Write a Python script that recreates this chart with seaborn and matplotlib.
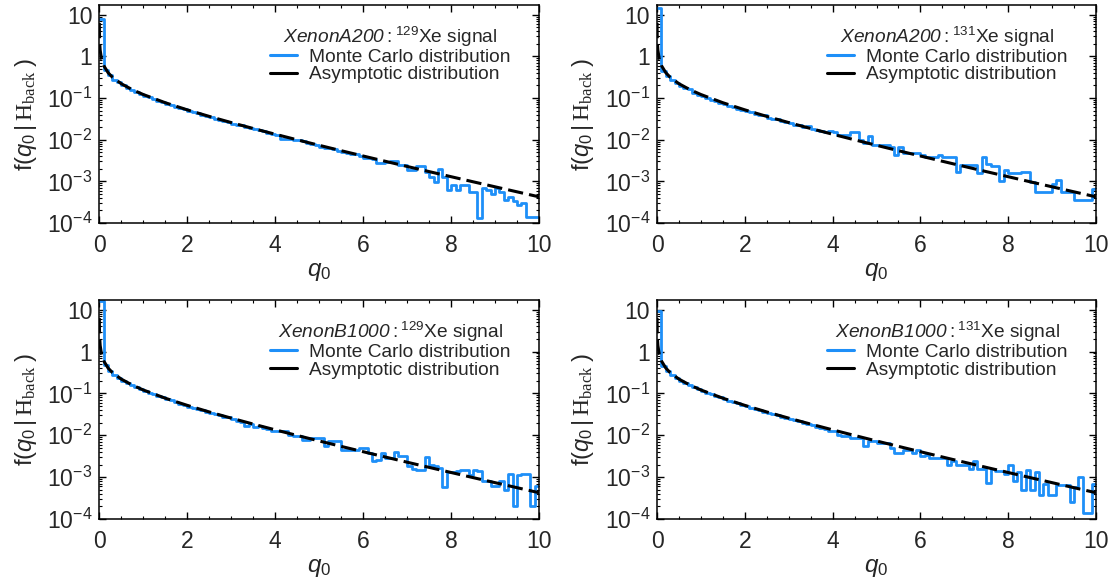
"""Monte Carlo vs asymptotic f(q0 | H_back) for the four xenon setups."""

import matplotlib.pyplot as plt
import matplotlib.ticker as mtick
from matplotlib.lines import Line2D
import numpy as np
import pandas as pd
import seaborn as sns

sns.set_theme(style="ticks")
plt.rcParams.update({
    "font.family": ["Liberation Sans", "DejaVu Sans"],
    "mathtext.fontset": "custom",
    "mathtext.rm": "Liberation Sans",
    "mathtext.it": "Liberation Sans:italic",
    "mathtext.bf": "Liberation Sans:italic",
    "mathtext.sf": "Liberation Serif",
    "xtick.direction": "in",
    "ytick.direction": "in",
    "xtick.top": True,
    "ytick.right": True,
    "axes.edgecolor": "black",
    "axes.linewidth": 1.1,
})

BLUE = "#1e8ff8"

# ── Data ──────────────────────────────────────────────────────────────────────

BIN_EDGES = np.linspace(0, 10, 101)

SETUPS = ["XenonA200", "XenonA200", "XenonB1000", "XenonB1000"]
ISOTOPES = ["129", "131", "129", "131"]

# Monte Carlo histograms (density per bin of width 0.1)
MC_A200_129 = [
    7.9, 0.46, 0.35, 0.27, 0.24, 0.20, 0.175, 0.155, 0.14, 0.125,
    0.112, 0.105, 0.094, 0.086, 0.080, 0.072, 0.068, 0.062, 0.058, 0.054,
    0.049, 0.046, 0.043, 0.039, 0.037, 0.035, 0.032, 0.030, 0.028, 0.027,
    0.024, 0.023, 0.022, 0.020, 0.019, 0.018, 0.017, 0.0158, 0.0145, 0.0135,
    0.0128, 0.0103, 0.0101, 0.0104, 0.0098, 0.0097, 0.0093, 0.0081, 0.0078, 0.0074,
    0.0066, 0.0062, 0.0063, 0.0060, 0.0053, 0.0051, 0.0047, 0.0045, 0.0046, 0.0040,
    0.0037, 0.0036, 0.0034, 0.0027, 0.0027, 0.0029, 0.0031, 0.0031, 0.0025, 0.0024,
    0.00186, 0.00186, 0.0023, 0.0023, 0.0017, 0.00129, 0.00098, 0.00195, 0.0013, 0.00062,
    0.00081, 0.00062, 0.00081, 0.00081, 0.00056, 0.00056, 0.00013, 0.00068, 0.00062, 0.00051,
    0.0007, 0.00056, 0.00036, 0.00043, 0.00033, 0.00027, 0.00031, 0.00014, 0.00014, 0.00014,
]
MC_A200_131 = [
    14.5, 0.45, 0.33, 0.27, 0.23, 0.19, 0.17, 0.16, 0.135, 0.12,
    0.11, 0.100, 0.090, 0.085, 0.076, 0.072, 0.065, 0.060, 0.055, 0.051,
    0.048, 0.046, 0.042, 0.040, 0.038, 0.034, 0.032, 0.031, 0.028, 0.026,
    0.025, 0.023, 0.022, 0.020, 0.021, 0.018, 0.017, 0.016, 0.015, 0.016,
    0.0155, 0.0129, 0.0129, 0.0129, 0.0155, 0.0155, 0.0097, 0.0082, 0.0122, 0.0074,
    0.0074, 0.0074, 0.0074, 0.0068, 0.0043, 0.0068, 0.0047, 0.0047, 0.0047, 0.0047,
    0.0043, 0.0039, 0.0039, 0.0039, 0.0043, 0.0039, 0.0039, 0.0039, 0.0017, 0.0025,
    0.0025, 0.0025, 0.0025, 0.0016, 0.0039, 0.0026, 0.0023, 0.0023, 0.0010, 0.0019,
    0.0016, 0.0016, 0.0016, 0.0017, 0.0017, 0.00098, 0.00056, 0.00056, 0.00056, 0.00056,
    0.00087, 0.0011, 0.00056, 0.00056, 0.00056, 0.00036, 0.00036, 0.00036, 0.00036, 0.00065,
]
MC_B1000_129 = [
    15.8, 0.47, 0.34, 0.28, 0.24, 0.20, 0.18, 0.155, 0.14, 0.125,
    0.114, 0.103, 0.095, 0.086, 0.080, 0.073, 0.068, 0.062, 0.057, 0.052,
    0.048, 0.045, 0.042, 0.040, 0.037, 0.034, 0.032, 0.030, 0.028, 0.027,
    0.024, 0.022, 0.021, 0.017, 0.019, 0.016, 0.017, 0.015, 0.014, 0.013,
    0.0126, 0.0126, 0.0126, 0.0104, 0.0095, 0.0095, 0.0079, 0.0079, 0.0087, 0.0087,
    0.0087, 0.0055, 0.0072, 0.0072, 0.0072, 0.0045, 0.0045, 0.0045, 0.0045, 0.0049,
    0.0049, 0.0038, 0.0024, 0.0026, 0.0038, 0.0028, 0.0028, 0.0041, 0.0032, 0.0032,
    0.0018, 0.0016, 0.0015, 0.0015, 0.0031, 0.0019, 0.0018, 0.0017, 0.00059, 0.0013,
    0.0013, 0.0014, 0.0015, 0.0015, 0.0011, 0.0015, 0.0014, 0.0008, 0.0008, 0.0006,
    0.0006, 0.0008, 0.0005, 0.0012, 0.0002, 0.0011, 0.0012, 0.0012, 0.0002, 0.0006,
]
MC_B1000_131 = [
    9.5, 0.46, 0.34, 0.28, 0.23, 0.20, 0.18, 0.16, 0.14, 0.125,
    0.115, 0.104, 0.096, 0.087, 0.081, 0.074, 0.067, 0.063, 0.058, 0.054,
    0.050, 0.044, 0.042, 0.040, 0.037, 0.035, 0.032, 0.030, 0.028, 0.026,
    0.025, 0.023, 0.022, 0.020, 0.019, 0.018, 0.016, 0.015, 0.014, 0.013,
    0.0125, 0.0104, 0.0095, 0.0095, 0.0087, 0.0087, 0.0087, 0.0055, 0.0072, 0.0072,
    0.0065, 0.0065, 0.0065, 0.0050, 0.0038, 0.0038, 0.0045, 0.0045, 0.0038, 0.0045,
    0.0032, 0.0034, 0.0029, 0.0029, 0.0029, 0.0029, 0.0020, 0.0024, 0.0020, 0.0020,
    0.0020, 0.0016, 0.0024, 0.0016, 0.0016, 0.00072, 0.0016, 0.0014, 0.0014, 0.0012,
    0.0020, 0.0008, 0.0013, 0.0005, 0.0015, 0.0005, 0.0013, 0.00038, 0.0007, 0.00038,
    0.00038, 0.00065, 0.00065, 0.00065, 0.00026, 0.00058, 0.0010, 0.00014, 0.00014, 0.0007,
]
MC_SERIES = [MC_A200_129, MC_A200_131, MC_B1000_129, MC_B1000_131]

ASYM_Q = [0.001, 0.002, 0.005, 0.01, 0.02, 0.05, 0.1, 0.2, 0.3, 0.5, 0.75, 1.0,
          1.5, 2.0, 2.5, 3.0, 3.5, 4.0, 4.5, 5.0, 5.5, 6.0, 6.5, 7.0, 7.5, 8.0,
          8.5, 9.0, 9.5, 10.0]
ASYM_F = [6.3, 4.46, 2.82, 1.985, 1.396, 0.870, 0.600, 0.4036, 0.3135, 0.2197,
          0.1583, 0.1210, 0.07694, 0.05189, 0.03614, 0.02570, 0.01853, 0.01350,
          0.00991, 0.007322, 0.005437, 0.004054, 0.003034, 0.002277, 0.001713,
          0.001292, 0.000976, 0.000739, 0.000560, 0.000425]

Y_TICKS = [1e-4, 1e-3, 1e-2, 1e-1, 1, 10]
Y_TICK_LABELS = [r"$\mathdefault{10^{-4}}$", r"$\mathdefault{10^{-3}}$",
                 r"$\mathdefault{10^{-2}}$", r"$\mathdefault{10^{-1}}$", "1", "10"]
X_TICKS = [0, 2, 4, 6, 8, 10]

# ── Figure ────────────────────────────────────────────────────────────────────

fig = plt.figure(figsize=(11.17, 5.88), dpi=100)
positions = [
    [0.0889, 0.6207, 0.3937, 0.3708],
    [0.5882, 0.6207, 0.3930, 0.3708],
    [0.0889, 0.1173, 0.3937, 0.3724],
    [0.5882, 0.1173, 0.3930, 0.3724],
]
centers = (BIN_EDGES[:-1] + BIN_EDGES[1:]) / 2

for pos, setup, iso, mc in zip(positions, SETUPS, ISOTOPES, MC_SERIES):
    ax = fig.add_axes(pos)
    ax.set_yscale("log")
    hist_df = pd.DataFrame({"q0": centers, "f": mc})
    sns.histplot(data=hist_df, x="q0", weights="f", bins=BIN_EDGES.tolist(),
                 element="step", fill=False, color=BLUE, linewidth=2.0, ax=ax)
    sns.lineplot(x=ASYM_Q, y=ASYM_F, color="black", linewidth=2.2,
                 linestyle=(0, (5.0, 2.0)), ax=ax)

    ax.set_xlim(0, 10)
    ax.set_ylim(1e-4, 17)
    ax.set_xticks(X_TICKS)
    ax.xaxis.set_minor_locator(mtick.MultipleLocator(0.5))
    ax.set_yticks(Y_TICKS)
    ax.set_yticklabels(Y_TICK_LABELS)
    ax.yaxis.set_minor_locator(mtick.LogLocator(base=10, subs=np.arange(2, 10), numticks=20))
    ax.yaxis.set_minor_formatter(mtick.NullFormatter())
    ax.tick_params(which="major", length=5, width=1.0, labelsize=16.5, color="black")
    ax.tick_params(which="minor", length=2.5, width=0.8, color="black")
    ax.tick_params(axis="x", pad=8)
    ax.tick_params(axis="y", pad=5)

    ax.set_xlabel(r"$q_0$", fontsize=17.5, labelpad=3)
    ax.set_ylabel(r"f($q_0\,|\,\mathsf{H}_{\mathsf{back}}\;$)", fontsize=17, labelpad=6)

    handles = [Line2D([], [], color=BLUE, lw=2.2),
               Line2D([], [], color="black", lw=2.2)]
    leg = ax.legend(handles, ["Monte Carlo distribution", "Asymptotic distribution"],
                    title=rf"$\mathbf{{{setup}}}:{{}}^{{{iso}}}$Xe signal",
                    loc="upper right", bbox_to_anchor=(0.965, 0.972), frameon=False,
                    fontsize=13.8, title_fontsize=13.8, handlelength=1.4,
                    handletextpad=0.6, labelspacing=0.0, borderpad=0.2)
    leg._legend_box.sep = 0

fig.savefig("out.png", dpi=100)
